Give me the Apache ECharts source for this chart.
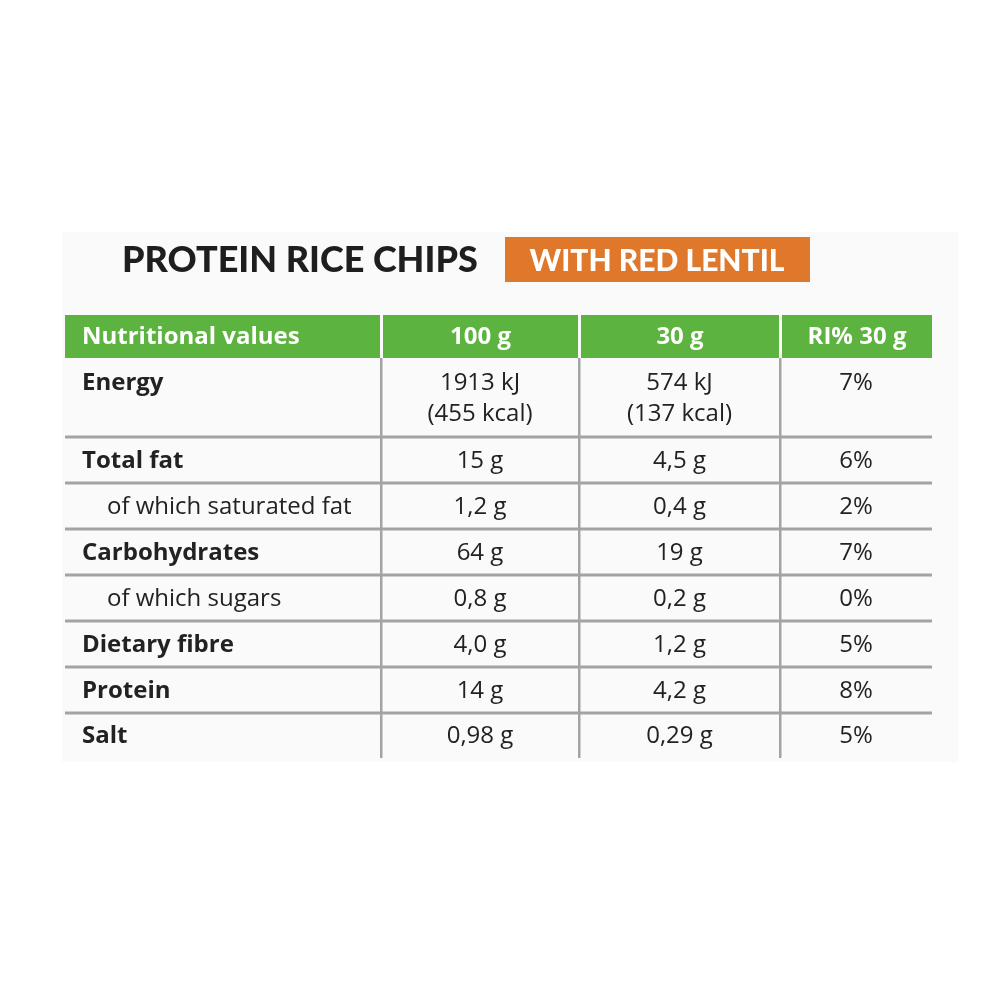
<!DOCTYPE html>
<html><head><meta charset="utf-8">
<script src="https://cdn.jsdelivr.net/npm/echarts@6/dist/echarts.min.js"></script>
<style>html,body{margin:0;padding:0;background:#fff}#c{width:1000px;height:1000px}</style>
</head><body><div id="c"></div>
<script>
(function(){
const titleMain = "PROTEIN RICE CHIPS";
const titleTag = "WITH RED LENTIL";
const headers = ["Nutritional values", "100 g", "30 g", "RI% 30 g"];
const rowLabels = ["Energy", "Total fat", "of which saturated fat", "Carbohydrates", "of which sugars", "Dietary fibre", "Protein", "Salt"];
const rowSub = [false, false, true, false, true, false, false, false];
const per100 = ["1913 kJ\n(455 kcal)", "15 g", "1,2 g", "64 g", "0,8 g", "4,0 g", "14 g", "0,98 g"];
const per30 = ["574 kJ\n(137 kcal)", "4,5 g", "0,4 g", "19 g", "0,2 g", "1,2 g", "4,2 g", "0,29 g"];
const ri30 = ["7%", "6%", "2%", "7%", "0%", "5%", "8%", "5%"];

const chart = echarts.init(document.getElementById('c'));
const colX = [65, 381, 579, 780, 932];
const headTop = 315, headBot = 358;
const rowBottoms = [437, 483, 529, 575, 621, 667, 713, 758];
const F = "'Open Sans', sans-serif";
const els = [];
els.push({type:'rect', shape:{x:62,y:232,width:896,height:530}, style:{fill:'#fafafa'}});
els.push({type:'text', style:{text:titleMain, x:122, y:260, verticalAlign:'middle', font:"900 36px Lato, 'DejaVu Sans'", fill:'#1e1e1e'}});
els.push({type:'rect', shape:{x:505,y:237,width:305,height:45}, style:{fill:'#E0782B'}});
els.push({type:'text', style:{text:titleTag, x:657, y:261, align:'center', verticalAlign:'middle', font:"900 30px Lato, 'DejaVu Sans'", fill:'#fff'}});
for (let i=0;i<4;i++){
  const x0 = colX[i] + (i?2:0), x1 = colX[i+1] - (i<3?1:0);
  els.push({type:'rect', shape:{x:x0,y:headTop,width:x1-x0,height:headBot-headTop}, style:{fill:'#5DB33F'}});
  els.push({type:'text', style:{text:headers[i], x: i===0?82:(x0+x1)/2, y:337, align:i===0?'left':'center', verticalAlign:'middle', font:"bold 24px "+F, fill:'#fff'}});
}
let rowTop = headBot;
rowLabels.forEach((lab,r)=>{
  const bot = rowBottoms[r];
  const multi = per100[r].includes('\n');
  const cy = multi ? rowTop+25 : (rowTop+bot)/2+1;
  els.push({type:'text', style:{text:lab, x: rowSub[r]?107:82, y:cy, verticalAlign:'middle', font:(rowSub[r]?"":"bold ")+"24px "+F, fill:'#222'}});
  [per100, per30, ri30].forEach((arr,c)=>{
    els.push({type:'text', style:{text:arr[r], x:(colX[c+1]+colX[c+2])/2, y: multi? rowTop+10 : cy, verticalAlign: multi?'top':'middle', align:'center', lineHeight:31, font:"24px "+F, fill:'#222'}});
  });
  if (r < rowLabels.length-1) els.push({type:'rect', shape:{x:65,y:bot-1.5,width:867,height:3}, style:{fill:'#a3a3a3'}});
  rowTop = bot;
});
for (let i=1;i<4;i++) els.push({type:'rect', shape:{x:colX[i]-1,y:headBot,width:2.5,height:758-headBot}, style:{fill:'#a3a3a3'}});
chart.setOption({animation:false, graphic:{elements:els}});
})();
</script></body></html>
